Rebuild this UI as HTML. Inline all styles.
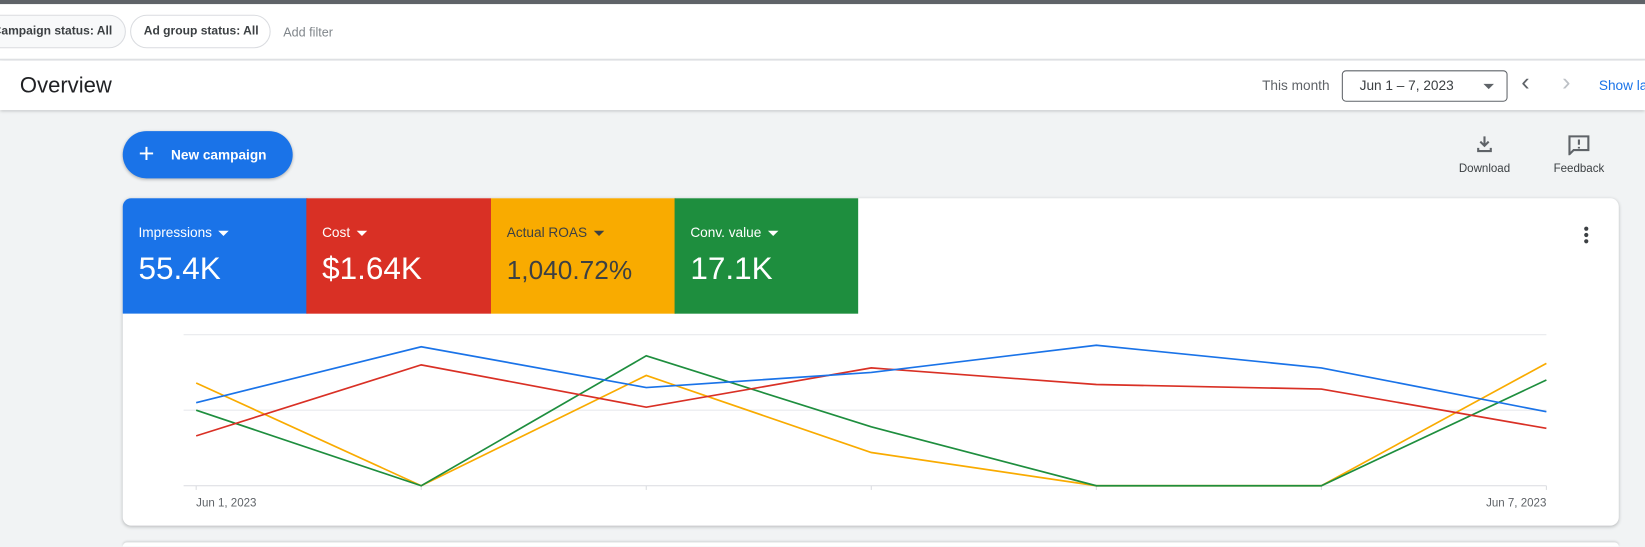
<!DOCTYPE html>
<html><head><meta charset="utf-8">
<style>
*{box-sizing:border-box;margin:0;padding:0}
html,body{width:1645px;height:547px;overflow:hidden;background:#f1f3f4}
#root{width:1568px;height:521px;overflow:hidden;position:relative;transform:scale(1.04911);transform-origin:0 0;font-family:"Liberation Sans",Arial,sans-serif;color:#3c4043}
.abs{position:absolute}
.chip{position:absolute;height:32px;border:1px solid #dadce0;border-radius:16px;font-size:11.5px;font-weight:bold;line-height:30px;color:#3c4043;padding:0 12px;white-space:nowrap}
.tile{position:absolute;top:189px;height:110px;width:176px;color:#fff}
.tile .lbl{position:absolute;left:15px;top:25px;font-size:13px}
.tile .val{position:absolute;left:15px;top:51px;font-size:30px}
.caret{display:inline-block;width:0;height:0;border-left:5px solid transparent;border-right:5px solid transparent;border-top:5px solid currentColor;margin-left:6px;vertical-align:middle}
</style></head><body>
<div id="root">
<div class="abs" style="left:0;top:0;width:1568px;height:4px;background:#5f6368"></div>
<div class="abs" style="left:0;top:4px;width:1568px;height:53px;background:#fff;border-bottom:1px solid #dadce0">
 <div class="chip" style="left:-20px;top:10px;background:#f8f9fa">Campaign status: All</div>
 <div class="chip" style="left:124px;top:10px;width:134px;background:#fff">Ad group status: All</div>
 <div class="abs" style="left:270px;top:20px;font-size:12px;color:#80868b">Add filter</div>
</div>
<div class="abs" style="left:0;top:58px;width:1568px;height:47px;background:#fff;box-shadow:0 1px 3px rgba(60,64,67,.35)">
 <div class="abs" style="left:19px;top:12px;font-size:21px;color:#202124">Overview</div>
 <div class="abs" style="left:1203px;top:16px;font-size:13px;color:#5f6368">This month</div>
 <div class="abs" style="left:1279px;top:9px;width:158px;height:30px;border:1px solid #5f6368;border-radius:4px;font-size:13px;line-height:28px;padding-left:16px;color:#3c4043">Jun 1 – 7, 2023<span class="caret" style="position:absolute;right:12px;top:12px;margin:0;color:#5f6368"></span></div>
 <div class="abs" style="left:1450px;top:7px;font-size:24px;color:#5f6368">‹</div>
 <div class="abs" style="left:1489px;top:7px;font-size:24px;color:#bdc1c6">›</div>
 <div class="abs" style="left:1524px;top:16px;font-size:13px;color:#1a73e8;white-space:nowrap">Show last</div>
</div>
<div class="abs" style="left:117px;top:125px;width:162px;height:45px;border-radius:23px;background:#1a73e8;color:#fff;font-size:13px;font-weight:bold;line-height:45px;box-shadow:0 1px 3px rgba(0,0,0,.3)"><span style="position:absolute;left:15px;top:-1px;font-size:26px;font-weight:normal">+</span><span style="position:absolute;left:46px">New campaign</span></div>
<div class="abs" style="left:1384px;top:128px;width:62px;text-align:center;font-size:11px;color:#3c4043">
 <svg width="18" height="18" viewBox="0 0 18 18"><path d="M9 2v9M5 7l4 4 4-4M3 13v3h12v-3" stroke="#5f6368" stroke-width="2" fill="none"/></svg><div style="margin-top:6px">Download</div></div>
<div class="abs" style="left:1474px;top:128px;width:62px;text-align:center;font-size:11px;color:#3c4043">
 <svg width="22" height="20" viewBox="0 0 22 20"><path d="M2 2h18v13H6l-4 4z" stroke="#5f6368" stroke-width="2" fill="none"/><path d="M11 5v5M11 12v1.5" stroke="#5f6368" stroke-width="2"/></svg><div style="margin-top:4px">Feedback</div></div>

<div class="abs" style="left:117px;top:189px;width:1426px;height:312px;background:#fff;border-radius:8px;box-shadow:0 1px 3px rgba(60,64,67,.3)"></div>
<div class="tile" style="left:117px;background:#1a73e8;border-top-left-radius:8px"><div class="lbl">Impressions<span class="caret"></span></div><div class="val">55.4K</div></div>
<div class="tile" style="left:292px;background:#d93025"><div class="lbl">Cost<span class="caret"></span></div><div class="val">$1.64K</div></div>
<div class="tile" style="left:468px;background:#f9ab00;color:#3c4043"><div class="lbl">Actual ROAS<span class="caret"></span></div><div class="val" style="font-size:25px;top:55px">1,040.72%</div></div>
<div class="tile" style="left:643px;background:#1e8e3e;width:175px"><div class="lbl">Conv. value<span class="caret"></span></div><div class="val">17.1K</div></div>
<div class="abs" style="left:1510px;top:216px;width:4px">
 <div style="width:4px;height:4px;border-radius:2px;background:#3c4043;margin-bottom:2px"></div><div style="width:4px;height:4px;border-radius:2px;background:#3c4043;margin-bottom:2px"></div><div style="width:4px;height:4px;border-radius:2px;background:#3c4043"></div></div>
<div class="abs" style="left:117px;top:517px;width:1426px;height:4px;background:#fff;border-radius:8px 8px 0 0;box-shadow:0 -1px 2px rgba(60,64,67,.2)"></div>

<svg class="abs" id="chart" style="left:0;top:0" width="1568" height="521"></svg>
</div>
<script>
const dates=["Jun 1, 2023","Jun 2, 2023","Jun 3, 2023","Jun 4, 2023","Jun 5, 2023","Jun 6, 2023","Jun 7, 2023"];
const impressions=[55,92,65,75,93,78,49];
const cost=[33,80,52,78,67,64,38];
const convValue=[50,0,86,39,0,0,70];
const roas=[68,0,73,22,0,0,81];
const gridValues=[0,50,100];
const svg=document.getElementById('chart');
const NS='http://www.w3.org/2000/svg';
const x0=187,x1=1474,yBase=463,yTop=319;
const xs=i=>x0+(x1-x0)*i/(dates.length-1);
const ys=v=>yBase-(yBase-yTop)*v/100;
function mk(t,a){const e=document.createElementNS(NS,t);for(const k in a)e.setAttribute(k,a[k]);svg.appendChild(e);return e;}
gridValues.forEach(g=>{
 const l=mk('line',{x1:175,x2:1474,y1:ys(g),y2:ys(g),stroke:g===0?'#dadce0':'#e8eaed','stroke-width':1});
 
 
});
dates.forEach((d,i)=>{
 const t=mk('line',{x1:xs(i),x2:xs(i),y1:463,y2:467,stroke:'#dadce0'});
 
 
});
[[0,'start'],[dates.length-1,'end']].forEach(([i,a])=>{
 const t=mk('text',{x:xs(i),y:483,'text-anchor':a,'font-size':11,fill:'#5f6368','font-family':'Liberation Sans, sans-serif'});
 t.textContent=dates[i];
 
 
});
const series=[[roas,'#f9ab00','roas-line'],[convValue,'#1e8e3e','conv-value-line'],[cost,'#d93025','cost-line'],[impressions,'#1a73e8','impressions-line']];
series.forEach(([vals,c,n])=>{
 const p=mk('polyline',{points:vals.map((v,i)=>xs(i)+','+ys(v)).join(' '),fill:'none',stroke:c,'stroke-width':1.6});
 
 
});
</script>
</body></html>
